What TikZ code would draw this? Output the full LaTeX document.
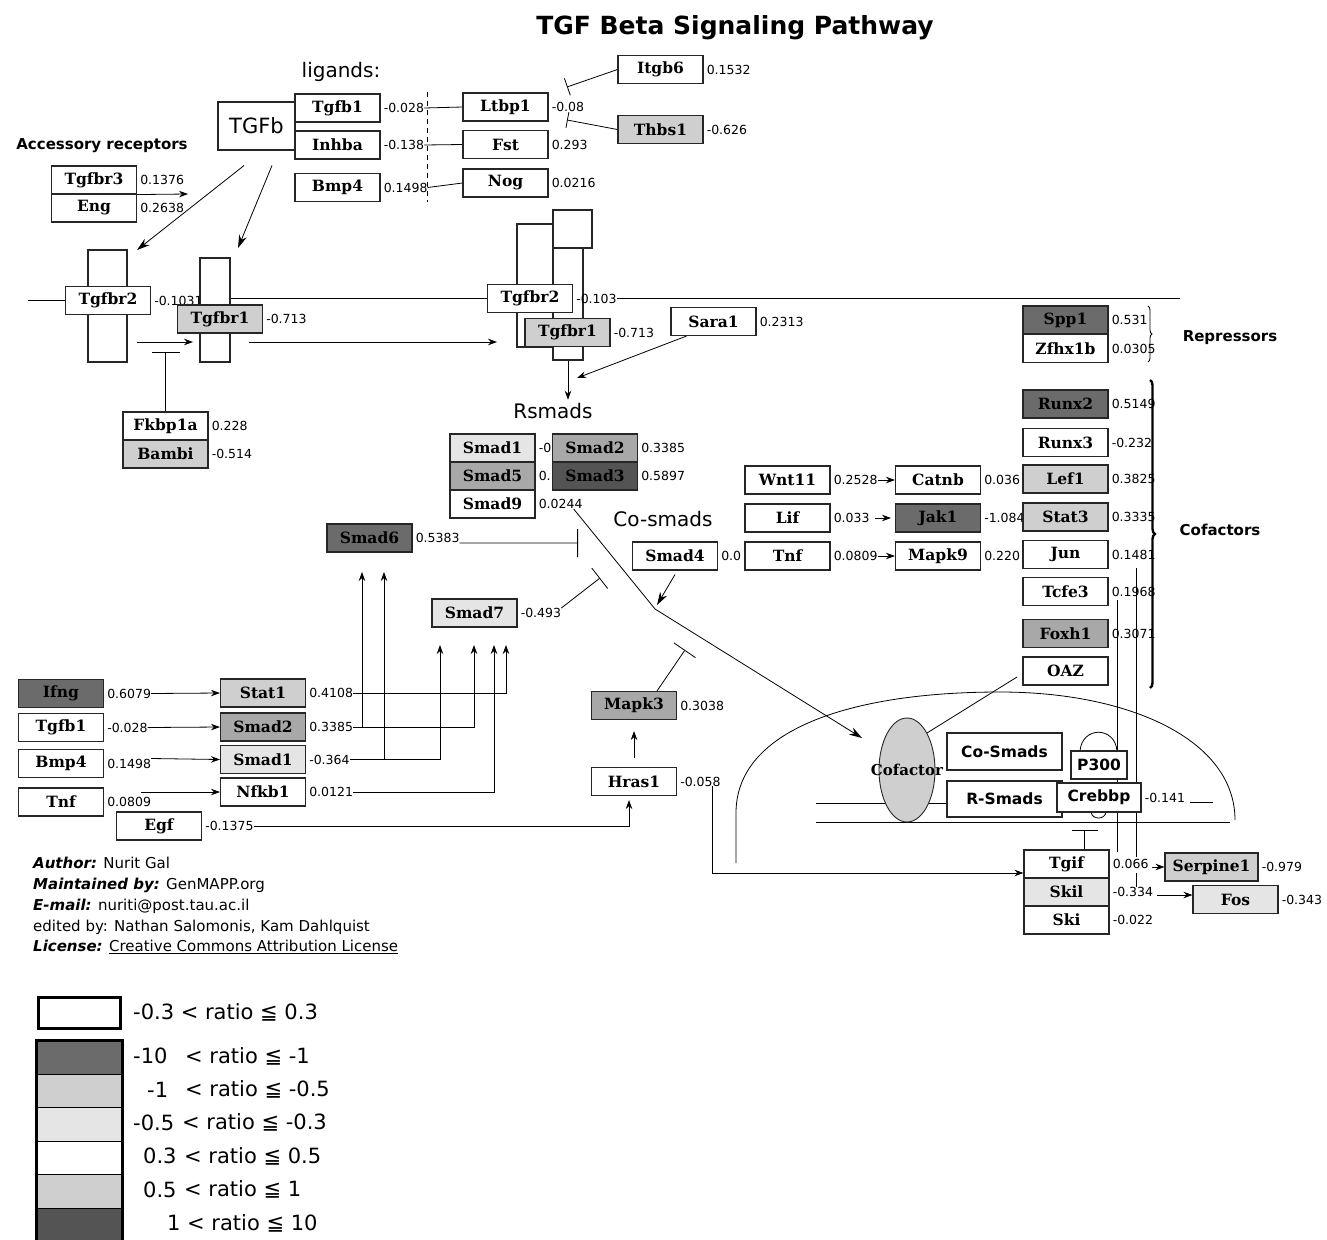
\documentclass[tikz,border=0pt]{standalone}
\usepackage{fontspec}
\setmainfont{DejaVu Sans}
\newfontfamily\genefont{DejaVu Serif}
\usetikzlibrary{arrows.meta, positioning, shapes.geometric, decorations.pathreplacing}

\definecolor{cdark}{gray}{0.42}
\definecolor{cdarker}{gray}{0.33}
\definecolor{cmid}{gray}{0.66}
\definecolor{clight}{gray}{0.81}
\definecolor{cpale}{gray}{0.9}

\begin{document}
\begin{tikzpicture}[x=1pt, y=-1pt,
    gene/.style={draw=black!85, line width=1.1pt, fill=white, minimum width=85pt, minimum height=28pt, inner sep=0pt, font=\genefont\bfseries\fontsize{15.5}{17}\selectfont},
    cplx/.style={draw=black!85, line width=1.1pt, fill=white, inner sep=0pt, font=\bfseries\fontsize{15.5}{18}\selectfont},
    val/.style={font=\fontsize{12.5}{14}\selectfont, inner sep=0pt, anchor=west},
    lbl/.style={font=\bfseries\fontsize{15}{18}\selectfont},
    head/.style={font=\fontsize{20}{24}\selectfont},
    credit/.style={font=\fontsize{15}{18}\selectfont, anchor=west, inner sep=0pt},
    legtext/.style={font=\fontsize{21}{24}\selectfont, anchor=west, inner sep=0pt},
    bar/.style={draw=black!85, line width=1.1pt, fill=white, inner sep=0pt},
    link/.style={line width=0.8pt},
    arr/.style={link, -{Stealth[length=9pt, width=6.5pt]}},
    bigarr/.style={link, -{Stealth[length=13pt, width=8pt]}},
    inh/.style={link, -{Bar[width=#1]}}, inh/.default=26pt
]
\useasboundingbox (0,0) rectangle (1327,1239);

\pgfdeclarelayer{background}
\pgfsetlayers{background,main}

% ==========================
% TITLES AND LABELS
% ==========================
\node[font=\bfseries\fontsize{25}{30}\selectfont] (title) at (735,28) {TGF Beta Signaling Pathway};
\node[head] (ligands) at (341,72) {ligands:};
\node[lbl] (accrec) at (102,146) {Accessory receptors};
\node[head] (Rsmads) at (553,411) {Rsmads};
\node[head] (Cosmads) at (663,519) {Co-smads};
\node[lbl] (repr) at (1230,338) {Repressors};
\node[lbl] (cofs) at (1220,530) {Cofactors};

% ==========================
% RECEPTOR BARS
% ==========================
\node[bar, minimum width=39pt, minimum height=112pt] (bar1) at (107.5,306) {};
\node[bar, minimum width=30pt, minimum height=104pt] (bar2) at (215,310) {};
\node[bar, minimum width=36pt, minimum height=123pt] (bar3) at (535,285.5) {};
\node[bar, minimum width=39pt, minimum height=38pt] (bar4) at (572.5,229) {};
\node[bar, minimum width=30pt, minimum height=112pt] (bar5) at (568,304) {};

% ==========================
% GENE BOXES
% ==========================
\node[draw=black!85, line width=1.1pt, fill=white, inner sep=0pt, minimum width=77pt, minimum height=48pt, font=\fontsize{21}{24}\selectfont] (TGFb) at (256.5,126) {TGFb};

\foreach \nm/\lab/\x/\y/\col/\val in {
    ligTgfb1/Tgfb1/337.5/108/white/-0.028, ligInhba/Inhba/337.5/145/white/-0.138,
    ligBmp4/Bmp4/337.5/187.5/white/0.1498, Ltbp1/Ltbp1/505.5/107/white/-0.08,
    Fst/Fst/505.5/144.5/white/0.293, Nog/Nog/505.5/183/white/0.0216,
    Itgb6/Itgb6/660.5/69.5/white/0.1532, Thbs1/Thbs1/660.5/129.5/clight/-0.626,
    Tgfbr3/Tgfbr3/94/180/white/0.1376, Eng/Eng/94/208/white/0.2638,
    Tgfbr2a/Tgfbr2/108/300.5/white/-0.1031, Tgfbr1a/Tgfbr1/220/319/clight/-0.713,
    Tgfbr2b/Tgfbr2/530/298.5/white/-0.103, Tgfbr1b/Tgfbr1/567.5/332.5/clight/-0.713,
    Fkbp1a/Fkbp1a/165.5/426/white/0.228, Bambi/Bambi/165.5/454/clight/-0.514,
    Sara1/Sara1/713.5/321.5/white/0.2313
} {
    \node[gene, fill=\col] (\nm) at (\x,\y) {\lab};
    \node[val, right=3pt of \nm] (v-\nm) {\val};
}

% Smads
\foreach \nm/\lab/\x/\y/\col/\val in {
    Smad1/Smad1/492.5/448/cpale/-0, Smad5/Smad5/492.5/476/cmid/0.,
    Smad9/Smad9/492.5/504/white/0.0244, Smad2/Smad2/595/448/cmid/0.3385,
    Smad3/Smad3/595/476/cdarker/0.5897, Smad6/Smad6/369.5/538/cdark/0.5383,
    Smad7/Smad7/474.5/613/cpale/-0.493, Smad4/Smad4/675/556/white/0.0,
    Wnt11/Wnt11/787.5/480/white/0.2528, Lif/Lif/787.5/518/white/0.033,
    Tnfb/Tnf/787.5/556/white/0.0809, Catnb/Catnb/938/480/white/0.036,
    Jak1/Jak1/938/518/cdark/-1.084, Mapk9/Mapk9/938/556/white/0.220
} {
    \node[gene, fill=\col] (\nm) at (\x,\y) {\lab};
    \node[val, right=3pt of \nm] (v-\nm) {\val};
}

% Repressors and cofactors
\foreach \nm/\y/\col/\val in {
    Spp1/320/cdark/0.531, Zfhx1b/348.5/white/0.0305, Runx2/404/cdark/0.5149,
    Runx3/442.5/white/-0.232, Lef1/479/clight/0.3825, Stat3/517/clight/0.3335,
    Jun/554.5/white/0.1481, Tcfe3/591.5/white/0.1968, Foxh1/633.5/cmid/0.3071,
    OAZ/671/white/{}
} {
    \node[gene, fill=\col] (\nm) at (1065.5,\y) {\nm};
    \node[val, right=3pt of \nm] (v-\nm) {\val};
}

% Lower pathway
\foreach \nm/\lab/\x/\y/\col/\val in {
    Ifng/Ifng/61/693.5/cdark/0.6079, Tgfb1c/Tgfb1/61/727.5/white/-0.028,
    Bmp4c/Bmp4/61/763.5/white/0.1498, Tnfc/Tnf/61/802/white/0.0809,
    Egf/Egf/159/826/white/-0.1375, Stat1/Stat1/263/693/clight/0.4108,
    Smad2c/Smad2/263/727/cmid/0.3385, Smad1c/Smad1/263/759.5/cpale/-0.364,
    Nfkb1/Nfkb1/263/792/white/0.0121, Mapk3/Mapk3/634/705.5/cmid/0.3038,
    Hras1/Hras1/634/781.5/white/-0.058, Tgif/Tgif/1066.5/864/white/0.066,
    Skil/Skil/1066.5/892/cpale/-0.334, Ski/Ski/1066.5/920/white/-0.022,
    Fos/Fos/1235.5/899.5/cpale/-0.343
} {
    \node[gene, fill=\col] (\nm) at (\x,\y) {\lab};
    \node[val, right=3pt of \nm] (v-\nm) {\val};
}
\node[gene, fill=clight, minimum width=93pt] (Serpine1) at (1211.5,867) {Serpine1};
\node[val, right=3pt of Serpine1] (v-Serpine1) {-0.979};

% ==========================
% NUCLEUS COMPLEX
% ==========================
\node[ellipse, draw=black!85, line width=0.9pt, fill=clight, minimum width=56pt, minimum height=104pt, inner sep=0pt] (cof) at (907,770) {};
\node[font=\genefont\bfseries\fontsize{15}{17}\selectfont, inner sep=0pt] (cof-t) at (907,770) {Cofactor};
\node[cplx, minimum width=115pt, minimum height=37pt] (CoSmads) at (1004.5,751.5) {Co-Smads};
\node[cplx, minimum width=115pt, minimum height=36pt] (RSmads) at (1004.5,799) {R-Smads};
\node[cplx, minimum width=56pt, minimum height=28pt] (P300) at (1099,765) {P300};
\node[cplx, minimum width=84pt, minimum height=29pt] (Crebbp) at (1099,797.5) {Crebbp};
\node[val, right=3pt of Crebbp] (v-Crebbp) {-0.141};

% free ends
\coordinate (itgb6-bar) at (567,87);
\coordinate (thbs1-bar) at (567,120);
\coordinate (acc-tip) at (188,194);
\coordinate (tip-a) at (137,250);
\coordinate (tip-b) at (238,248);
\coordinate (mem-l) at (28,0);
\coordinate (mem-r) at (1180,0);
\coordinate (low-a) at (249,342);
\coordinate (low-b) at (497,342);
\coordinate (rec-a) at (137,342);
\coordinate (rec-b) at (193,342);
\coordinate (fk-bar) at (165.5,352);
\coordinate (sara-tip) at (577,378);
\coordinate (s6-bar) at (578,543);
\coordinate (s7-bar) at (600,578);
\coordinate (kink) at (655,609);
\coordinate (s4-tip) at (657,605);
\coordinate (cof-tip) at (862,738);
\coordinate (mk3-bar) at (685,650);
\coordinate (s6-a) at (362,572);
\coordinate (s6-b) at (384,572);
\coordinate (s7-a) at (440,645);
\coordinate (s7-b) at (494,645);
\coordinate (s7-c) at (474,645);
\coordinate (s7-d) at (506,645);
\coordinate (tnf-a) at (141,792);
\coordinate (oaz-a) at (1017,677);
\coordinate (tgif-bar) at (1084.5,830);
\coordinate (srp-a) at (1152,867);
\coordinate (fos-a) at (1157,895);

% ==========================
% CONNECTIONS
% ==========================
\begin{pgfonlayer}{background}
    % ligands
    \draw[link] (v-ligTgfb1.east) -- (Ltbp1.west);
    \draw[link] (v-ligInhba.east) -- (Fst.west);
    \draw[link] (v-ligBmp4.east) -- (Nog.west);
    \draw[link, dash pattern=on 5pt off 4pt] (427,92) -- (427,202);
    \draw[inh=18pt] (Itgb6.west) -- (itgb6-bar);
    \draw[inh=16pt] (Thbs1.west) -- (thbs1-bar);
    \draw[arr] (Tgfbr3.south east) -- (acc-tip);
    \draw[bigarr] ([shift={(-12.5,15)}]TGFb.south) -- (tip-a);
    \draw[bigarr] ([shift={(15.5,15)}]TGFb.south) -- (tip-b);

    % membrane and receptors
    \draw[link] (mem-l |- Tgfbr2a.west) -- (Tgfbr2a.west);
    \draw[link] (bar2.east |- Tgfbr2b.west) -- (Tgfbr2b.west);
    \draw[link] (v-Tgfbr2b.east) -- (mem-r |- v-Tgfbr2b.east);
    \draw[arr] (low-a) -- (low-b);
    \draw[arr] (rec-a) -- (rec-b);
    \draw[inh=28pt] (Fkbp1a.north) -- (fk-bar);
    \draw[arr] (bar5.south) -- (bar5.south |- Rsmads.north);
    \draw[arr] ([xshift=-27pt]Sara1.south) -- (sara-tip);

    % smads
    \draw[inh=28pt] (v-Smad6.south east) -- (s6-bar);
    \draw[inh] (v-Smad7.north east) -- (s7-bar);
    \draw[bigarr] ([xshift=13pt]v-Smad9.south) -- (kink) -- (cof-tip);
    \draw[bigarr] ([yshift=-4pt]Smad4.south) -- (s4-tip);
    \draw[inh] ([xshift=23pt]Mapk3.north) -- (mk3-bar);

    % cofactor inputs
    \draw[arr] (v-Wnt11.east) -- (Catnb.west);
    \draw[arr] ([xshift=5pt]v-Lif.east) -- ([xshift=-4pt]Jak1.west);
    \draw[arr] (v-Tnfb.east) -- (Mapk9.west);

    % lower pathway
    \draw[arr] (v-Ifng.east) -- (Stat1.west);
    \draw[arr] (v-Tgfb1c.east) -- (Smad2c.west);
    \draw[arr] ([yshift=5pt]v-Bmp4c.east) -- (Smad1c.west);
    \draw[arr] (tnf-a) -- (Nfkb1.west);
    \draw[arr] (v-Stat1.east) -| (s7-d);
    \draw[arr] (v-Smad2c.east) -| (s7-c);
    \draw[arr] (v-Smad1c.east) -| (s7-a);
    \draw[arr] (v-Nfkb1.east) -| (s7-b);
    \draw[arr] (s6-a |- v-Smad2c.east) -- (s6-a);
    \draw[arr] (s6-b |- v-Smad1c.east) -- (s6-b);
    \draw[arr] ([yshift=9pt]Hras1.north) -- ([yshift=-11pt]Mapk3.south);
    \draw[arr] (v-Egf.east) -| ([shift={(-5,4)}]Hras1.south);
    \draw[arr] ([xshift=-8pt]v-Hras1.south east) |- ([yshift=-9pt]Tgif.west);

    % nucleus
    \draw[link] (736,863) -- (736,813) .. controls (736,730) and (850,692) .. (1000,692)
        .. controls (1130,692) and (1235,740) .. (1235,820);
    \draw[link] (816,803) -- (1057,803);
    \draw[link] (1190,802) -- (1213,802);
    \draw[link] (816,822) -- (1230,822);
    \draw[link] (1080,751) .. controls (1082,726) and (1115,726) .. (1117,751);
    \draw[link] (1091,812) .. controls (1092,820) and (1105,820) .. (1106,812);
    \draw[link] (oaz-a) -- (cof.north east);
    \draw[link] (1136,568) -- (1136,857);
    \draw[link] (1136,873) -- (1136,887);
    \draw[link] (1117,600) -- (1117,852);
    \draw[inh] ([xshift=18pt]Tgif.north) -- (tgif-bar);
    \draw[arr] (srp-a) -- (Serpine1.west);
    \draw[arr] (fos-a) -- (fos-a -| Fos.west);
\end{pgfonlayer}

% braces
\draw[decorate, decoration={brace, amplitude=4pt}, line width=0.8pt] (1148,306) -- (1148,362);
\draw[decorate, decoration={brace, amplitude=5pt}, line width=2.4pt] (1150,380) -- (1150,688);

% ==========================
% CREDITS
% ==========================
\node[credit] (cr1) at (33,863) {\textbf{\textit{Author:}} Nurit Gal};
\node[credit] (cr2) at (33,885) {\textbf{\textit{Maintained by:}} GenMAPP.org};
\node[credit] (cr3) at (33,906) {\textbf{\textit{E-mail:}} nuriti@post.tau.ac.il};
\node[credit] (cr4) at (33,927) {edited by: Nathan Salomonis, Kam Dahlquist};
\node[credit] (cr5) at (33,947) {\textbf{\textit{License:}} \underline{Creative Commons Attribution License}};

% ==========================
% LEGEND
% ==========================
\node[draw, line width=3pt, fill=white, minimum width=82pt, minimum height=31pt, inner sep=0pt] (lg0) at (79.5,1013) {};
\node[legtext] (lt0) at (133,1012) {-0.3 < ratio ≦ 0.3};
\foreach \i/\col/\yy/\num/\nx/\rest/\rx in {
    1/cdark/1058/-10/133/< ratio ≦ -1/185,
    2/clight/1091.5/-1/147/< ratio ≦ -0.5/185,
    3/cpale/1124.5/-0.5/133/< ratio ≦ -0.3/182,
    4/white/1158/0.3/143/< ratio ≦ 0.5/184,
    5/clight/1191.5/0.5/143/< ratio ≦ 1/184,
    6/cdarker/1225/1/167/< ratio ≦ 10/187
} {
    \node[draw, line width=1.2pt, fill=\col, minimum width=85pt, minimum height=33.4pt, inner sep=0pt] (lg\i) at (79.5,\yy) {};
    \node[legtext] (ln\i) at (\nx,\yy-2) {\num};
    \node[legtext] (lr\i) at (\rx,\yy-2) {\rest};
}
\draw[line width=3pt] (lg6.south west) -- (lg1.north west) -- (lg1.north east) -- (lg6.south east);

\end{tikzpicture}
\end{document}
